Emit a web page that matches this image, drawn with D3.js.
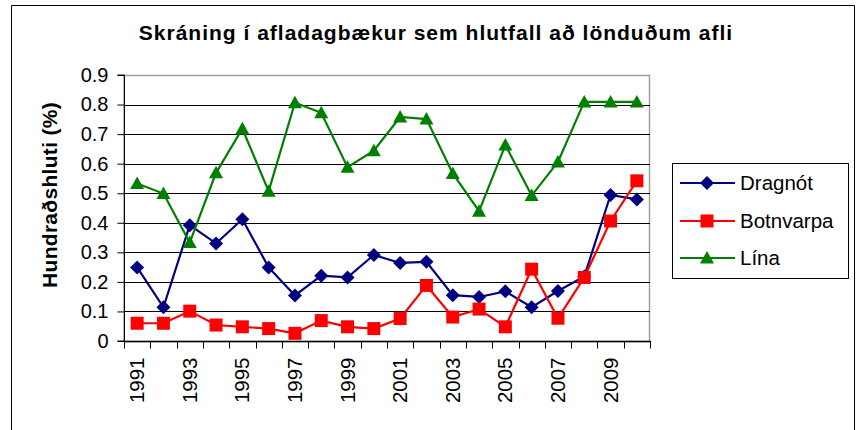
<!DOCTYPE html>
<html>
<head>
<meta charset="utf-8">
<script src="https://cdn.jsdelivr.net/npm/d3@7"></script>
<style>
  body { margin: 0; background: #fff; }
  svg { font-family: "Liberation Sans", Arial, sans-serif; }
</style>
</head>
<body>
<svg id="chart" width="857" height="430"></svg>
<script>
// data
const years = [1991, 1992, 1993, 1994, 1995, 1996, 1997, 1998, 1999, 2000,
               2001, 2002, 2003, 2004, 2005, 2006, 2007, 2008, 2009, 2010];
const dragnot = [0.249, 0.114, 0.392, 0.330, 0.412, 0.249, 0.154, 0.221, 0.215, 0.291,
                 0.264, 0.268, 0.155, 0.149, 0.168, 0.114, 0.169, 0.218, 0.494, 0.479];
const botnvarpa = [0.060, 0.060, 0.101, 0.054, 0.048, 0.042, 0.026, 0.069, 0.048, 0.042,
                   0.076, 0.188, 0.081, 0.108, 0.048, 0.243, 0.077, 0.215, 0.406, 0.542];
const lina = [0.533, 0.499, 0.333, 0.569, 0.718, 0.507, 0.806, 0.772, 0.588, 0.644,
              0.758, 0.751, 0.567, 0.439, 0.663, 0.492, 0.606, 0.809, 0.809, 0.809];
const yTicks = [0, 0.1, 0.2, 0.3, 0.4, 0.5, 0.6, 0.7, 0.8, 0.9];
const xLabelYears = years.filter((y, i) => i % 2 === 0);

const series = [
  { name: "Dragnót", values: dragnot, color: "#000080", shape: "diamond" },
  { name: "Botnvarpa", values: botnvarpa, color: "#ff0000", shape: "square" },
  { name: "Lína", values: lina, color: "#008000", shape: "triangle" }
];

const svg = d3.select("#chart");

// outer chart frame (bottom edge is cut off in the picture)
svg.append("path")
  .attr("d", "M11.5,431 V5.5 H854.5 V431")
  .attr("fill", "none").attr("stroke", "#000").attr("stroke-width", 1);

// plot area box
const plot = { left: 124, right: 650, top: 75, bottom: 341 };

const x = d3.scaleBand().domain(years).range([plot.left, plot.right]);
const y = d3.scaleLinear().domain([0, 0.9]).range([plot.bottom, plot.top]);
const cx = d => x(d) + x.bandwidth() / 2;

// grey border of plot area
svg.append("rect")
  .attr("x", plot.left).attr("y", plot.top + 0.5)
  .attr("width", plot.right - plot.left - 0.5).attr("height", plot.bottom - plot.top)
  .attr("fill", "none").attr("stroke", "#a0a0a0").attr("stroke-width", 1.5);

// gridlines
svg.append("g").selectAll("line")
  .data(yTicks.slice(1, -1))
  .join("line")
  .attr("x1", plot.left).attr("x2", plot.right)
  .attr("y1", d => Math.round(y(d)) + 0.5).attr("y2", d => Math.round(y(d)) + 0.5)
  .attr("stroke", "#000").attr("stroke-width", 1);

// y axis
const yAxis = svg.append("g")
  .attr("transform", `translate(${plot.left + 0.5},0)`)
  .call(d3.axisLeft(y).tickValues(yTicks).tickSize(7).tickPadding(9)
    .tickFormat(d => d === 0 ? "0" : d3.format(".1f")(d)));
yAxis.selectAll("text").attr("font-size", 20).attr("fill", "#000")
  .attr("font-family", "Liberation Sans, Arial, sans-serif");
yAxis.selectAll("line, path").attr("stroke", "#000");
yAxis.select(".domain").attr("d", `M-7,${plot.top}H0V${plot.bottom}H-7`);

// x axis (category ticks between points)
const xAxis = svg.append("g").attr("transform", `translate(0,${plot.bottom + 0.5})`);
xAxis.append("line")
  .attr("x1", plot.left).attr("x2", plot.right + 1)
  .attr("stroke", "#000").attr("stroke-width", 1.5);
xAxis.selectAll(".xt")
  .data(years.concat([null]))
  .join("line").attr("class", "xt")
  .attr("x1", (d, i) => Math.round(plot.left + i * x.bandwidth()) + 0.5)
  .attr("x2", (d, i) => Math.round(plot.left + i * x.bandwidth()) + 0.5)
  .attr("y1", 0).attr("y2", 7)
  .attr("stroke", "#000");
xAxis.selectAll(".xl")
  .data(xLabelYears)
  .join("text").attr("class", "xl")
  .attr("transform", d => `translate(${cx(d) + 7},16) rotate(-90)`)
  .attr("text-anchor", "end")
  .attr("font-size", 20.5)
  .text(d => d);

// symbol helper
function marker(shape) {
  if (shape === "diamond") return "M0,-7L7,0L0,7L-7,0Z";
  if (shape === "square") return "M-6.5,-6.5H6.5V6.5H-6.5Z";
  return "M0,-7L7,5.5H-7Z";
}

// lines and markers
const line = d3.line().x((v, i) => cx(years[i])).y(v => y(v));
series.forEach(s => {
  svg.append("path")
    .datum(s.values)
    .attr("d", line)
    .attr("fill", "none")
    .attr("stroke", s.color)
    .attr("stroke-width", 2.2);
  svg.append("g").selectAll("path")
    .data(s.values)
    .join("path")
    .attr("transform", (v, i) => `translate(${cx(years[i])},${y(v)})`)
    .attr("d", marker(s.shape))
    .attr("fill", s.color);
});

// title
svg.append("text")
  .attr("x", 436).attr("y", 40)
  .attr("text-anchor", "middle")
  .attr("font-size", 21).attr("font-weight", "bold")
  .attr("letter-spacing", 1)
  .text("Skráning í afladagbækur sem hlutfall að lönduðum afli");

// y title
svg.append("text")
  .attr("transform", "translate(57,195) rotate(-90)")
  .attr("text-anchor", "middle")
  .attr("font-size", 21).attr("font-weight", "bold")
  .attr("letter-spacing", 0.3)
  .text("Hundraðshluti (%)");

// legend
const legend = svg.append("g");
legend.append("rect")
  .attr("x", 672.5).attr("y", 163.5).attr("width", 176).attr("height", 115)
  .attr("fill", "#fff").attr("stroke", "#000");
const rowY = [183, 221, 258];
series.forEach((s, i) => {
  const g = legend.append("g").attr("transform", `translate(0,${rowY[i]})`);
  g.append("line").attr("x1", 680).attr("x2", 735)
    .attr("stroke", s.color).attr("stroke-width", 2.2);
  g.append("path").attr("transform", "translate(707,0)")
    .attr("d", marker(s.shape)).attr("fill", s.color);
  g.append("text").attr("x", 740).attr("y", 7)
    .attr("font-size", 20.5).text(s.name);
});
</script>
</body>
</html>
